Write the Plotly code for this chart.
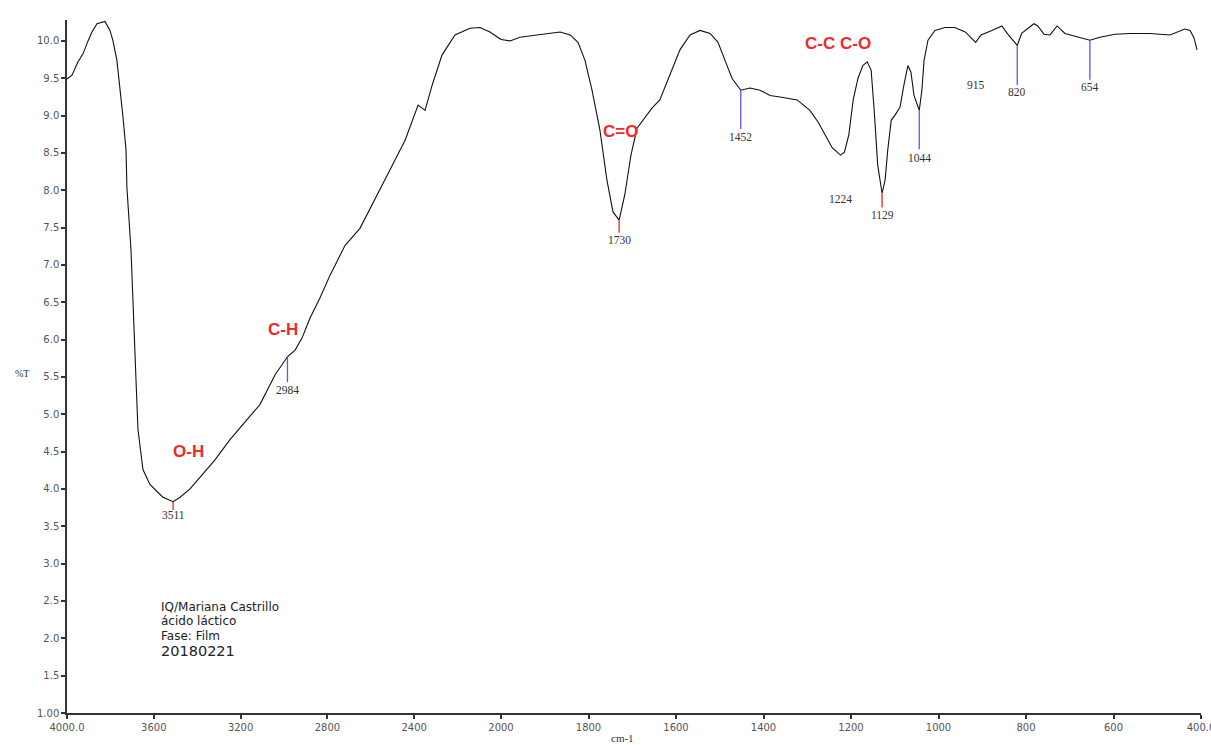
import numpy as np
import plotly.graph_objects as go

# ---------------- data ----------------
wavenumber = [4000, 3977, 3949, 3926, 3903, 3885, 3862, 3825, 3802, 3788, 3770, 3756, 3742, 3728, 3724,
              3705, 3691, 3682, 3673, 3650, 3618, 3585, 3558, 3511, 3479, 3433, 3387, 3318, 3249, 3180,
              3111, 3041, 3009, 2984, 2949, 2917, 2880, 2834, 2788, 2719, 2650, 2581, 2512, 2442, 2400,
              2382, 2350, 2318, 2272, 2212, 2143, 2097, 2051, 2000,
              1979, 1957, 1911, 1865, 1842, 1824, 1808, 1792, 1774, 1758, 1744, 1730, 1717, 1703, 1689,
              1671, 1655, 1637, 1614, 1591, 1568, 1545, 1522, 1504, 1488, 1472, 1452, 1431, 1408, 1385,
              1362, 1323, 1294, 1275, 1259, 1243, 1224, 1215, 1205, 1195, 1184, 1173, 1163, 1154, 1147,
              1139, 1129, 1122, 1116, 1108, 1099, 1088, 1079, 1070, 1063, 1056, 1044, 1038, 1033, 1024,
              1008, 985, 963, 939, 915, 903, 878, 855, 843, 820, 810, 795, 782, 773, 759, 745, 729, 711,
              688, 654, 631, 597, 562, 517, 471, 437, 425, 416, 409]
transmittance = [9.49, 9.54, 9.72, 9.83, 10.00, 10.12, 10.23, 10.26, 10.14, 10.00, 9.74, 9.38, 8.98, 8.54, 8.04,
                 7.20, 6.26, 5.46, 4.80, 4.26, 4.06, 3.97, 3.89, 3.83, 3.89, 4.00, 4.16, 4.39, 4.66, 4.89,
                 5.13, 5.53, 5.66, 5.77, 5.86, 6.02, 6.29, 6.56, 6.86, 7.26, 7.49, 7.87, 8.27, 8.67, 8.98,
                 9.14, 9.07, 9.40, 9.81, 10.08, 10.17, 10.18, 10.12, 10.02,
                 10.00, 10.05, 10.09, 10.12, 10.08, 9.98, 9.74, 9.34, 8.81, 8.14, 7.71, 7.60, 7.94, 8.47, 8.83,
                 8.97, 9.10, 9.21, 9.54, 9.88, 10.08, 10.14, 10.10, 9.98, 9.74, 9.50, 9.34, 9.37, 9.34, 9.27,
                 9.25, 9.21, 9.07, 8.91, 8.74, 8.57, 8.47, 8.51, 8.74, 9.21, 9.50, 9.67, 9.72, 9.61, 9.07,
                 8.34, 7.96, 8.14, 8.54, 8.94, 9.01, 9.11, 9.41, 9.67, 9.58, 9.27, 9.07, 9.34, 9.74, 10.01,
                 10.14, 10.18, 10.18, 10.12, 9.98, 10.08, 10.14, 10.20, 10.10, 9.94, 10.10, 10.17, 10.23, 10.20,
                 10.09, 10.08, 10.20, 10.10, 10.06, 10.01, 10.05, 10.09, 10.10, 10.10, 10.08, 10.16, 10.14,
                 10.04, 9.88]

peak_wn = [3511, 2984, 1730, 1452, 1224, 1129, 1044, 915, 820, 654]
peak_label_y = [3.65, 5.32, 7.34, 8.71, 7.88, 7.67, 8.43, 9.41, 9.31, 9.38]
peak_marker_end = [3.72, 5.43, 7.43, 8.82, None, 7.77, 8.55, None, 9.41, 9.48]
peak_marker_kind = ["red", "blue", "red", "blue", None, "red", "blue", None, "blue", "blue"]

group_labels = ["O-H", "C-H", "C=O", "C-C C-O"]
group_wn = [3442, 3005, 1728, 1230]
group_y = [4.50, 6.13, 8.79, 9.96]

info_lines = ["IQ/Mariana Castrillo", "ácido láctico", "Fase: Film", "20180221"]
info_y = [2.42, 2.23, 2.03, 1.83]

x1_ticks = [4000, 3600, 3200, 2800, 2400]
x1_text = ["4000.0", "3600", "3200", "2800", "2400"]
x2_ticks = [2000, 1800, 1600, 1400, 1200, 1000, 800, 600, 400]
x2_text = ["2000", "1800", "1600", "1400", "1200", "1000", "800", "600", "400.0"]
y_ticks = [1.0, 1.5, 2.0, 2.5, 3.0, 3.5, 4.0, 4.5, 5.0, 5.5, 6.0, 6.5, 7.0, 7.5, 8.0, 8.5, 9.0, 9.5, 10.0]
y_text = ["1.00"] + [f"{v:.1f}" for v in y_ticks[1:]]

# ---------------- figure ----------------
wn = np.array(wavenumber, dtype=float)
tr = np.array(transmittance, dtype=float)
hi = wn >= 2000
lo = wn <= 2000

W, H = 1211, 745
L, R, T, B = 67, 10, 20, 32
split = 434 / 1134

fig = go.Figure()
line_style = dict(color="#111111", width=1.1)
fig.add_trace(go.Scatter(x=wn[hi], y=tr[hi], mode="lines", line=line_style,
                         xaxis="x", yaxis="y", showlegend=False, hoverinfo="x+y"))
fig.add_trace(go.Scatter(x=wn[lo], y=tr[lo], mode="lines", line=line_style,
                         xaxis="x2", yaxis="y", showlegend=False, hoverinfo="x+y"))

def axref(w):
    return "x" if w > 2000 else "x2"

sorted_idx = np.argsort(wn)
annotations = []
shapes = []
marker_colors = {"red": "#ee2222", "blue": "#5555ff"}
for w, ly, me, kind in zip(peak_wn, peak_label_y, peak_marker_end, peak_marker_kind):
    xr = axref(w)
    yv = float(np.interp(w, wn[sorted_idx], tr[sorted_idx]))
    if kind is not None:
        shapes.append(dict(type="line", xref=xr, yref="y", x0=w, x1=w, y0=yv, y1=me,
                           line=dict(color=marker_colors[kind], width=1.3)))
    annotations.append(dict(x=w, y=ly, xref=xr, yref="y", text=str(w), showarrow=False,
                            xanchor="center", yanchor="middle",
                            font=dict(family="Liberation Serif, Times New Roman, serif", size=11.5, color="#333333")))

for txt, w, yv in zip(group_labels, group_wn, group_y):
    annotations.append(dict(x=w, y=yv, xref=axref(w), yref="y", text=f"<b>{txt}</b>", showarrow=False,
                            xanchor="center", yanchor="middle",
                            font=dict(family="Arial, Liberation Sans, sans-serif", size=17, color="#ee2a2a")))

for i, (txt, yv) in enumerate(zip(info_lines, info_y)):
    annotations.append(dict(x=3576, y=yv, xref="x", yref="y", text=txt, showarrow=False,
                            xanchor="left", yanchor="middle",
                            font=dict(family="DejaVu Sans, Verdana, sans-serif",
                                      size=14.5 if i == 3 else 12, color="#222222")))

annotations.append(dict(x=(622 - L) / 1134, y=-25 / 693, xref="paper", yref="paper", text="cm-1",
                        showarrow=False, xanchor="center", yanchor="middle",
                        font=dict(family="Liberation Serif, Times New Roman, serif", size=11, color="#333333")))
annotations.append(dict(x=(22 - L) / 1134, y=(713 - 373) / 693, xref="paper", yref="paper", text="%T",
                        showarrow=False, xanchor="center", yanchor="middle",
                        font=dict(family="Liberation Serif, Times New Roman, serif", size=10, color="#333333")))

axis_common = dict(showgrid=False, zeroline=False, showline=True, linecolor="#333333", linewidth=1.5,
                   ticks="outside", ticklen=4, tickcolor="#333333", tickwidth=1.5,
                   ticklabeloverflow="allow", automargin=False,
                   tickfont=dict(family="DejaVu Sans, Verdana, sans-serif", size=10, color="#555555"))

fig.update_layout(
    width=W, height=H,
    margin=dict(l=L, r=R, t=T, b=B, autoexpand=False),
    paper_bgcolor="white", plot_bgcolor="white",
    xaxis=dict(domain=[0, split], range=[4000, 2000], anchor="y",
               tickmode="array", tickvals=x1_ticks, ticktext=x1_text, **axis_common),
    xaxis2=dict(domain=[split, 1], range=[2000, 400], anchor="y",
                tickmode="array", tickvals=x2_ticks, ticktext=x2_text, **axis_common),
    yaxis=dict(range=[1.0, 10.28], anchor="x",
               tickmode="array", tickvals=y_ticks, ticktext=y_text, **axis_common),
    annotations=annotations,
    shapes=shapes,
)

fig.write_html("out.html", config={"displayModeBar": False},
               post_script="document.body.style.margin='0';document.body.style.overflow='hidden';")
